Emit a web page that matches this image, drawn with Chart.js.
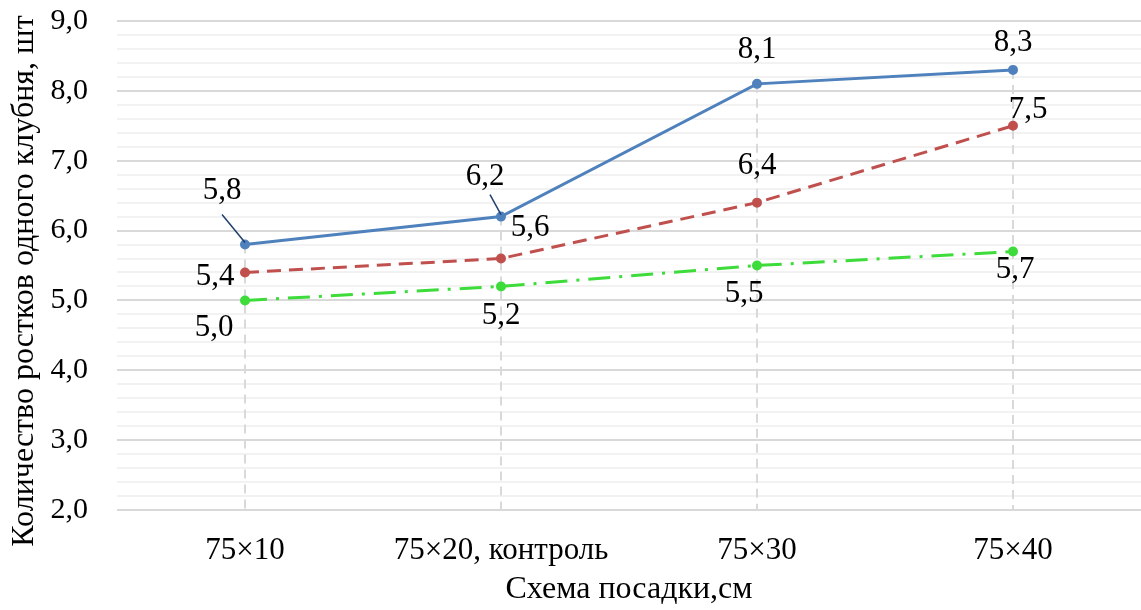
<!DOCTYPE html>
<html>
<head>
<meta charset="utf-8">
<script src="https://cdn.jsdelivr.net/npm/chart.js@4/dist/chart.umd.min.js"></script>
<style>
  html, body { margin: 0; padding: 0; background: #fff; overflow: hidden; }
  #wrap { width: 1141px; height: 610px; }
</style>
</head>
<body>
<div id="wrap"><canvas id="sprouts"></canvas></div>
<script>
// Данные
const categories = ['75×10', '75×20, контроль', '75×30', '75×40'];
const series1 = [5.8, 6.2, 8.1, 8.3];
const series2 = [5.4, 5.6, 6.4, 7.5];
const series3 = [5.0, 5.2, 5.5, 5.7];
const yTitle = 'Количество ростков одного клубня, шт';

// смещения подписей относительно точки (px)
const labelShift = [
  [[-23, -54], [-16, -40], [0, -34], [0, -27]],
  [[-30, 4], [29, -31], [0, -37], [15, -16]],
  [[-31, 27], [0, 29], [-13, 28], [2, 18]]
];

const font = 'Liberation Serif, Times New Roman, serif';

// вертикальные линии от верхней точки к оси
const dropLines = {
  id: 'dropLines',
  beforeDatasetsDraw(chart) {
    const { ctx, chartArea, scales } = chart;
    ctx.save();
    ctx.strokeStyle = '#d9d9d9';
    ctx.lineWidth = 2;
    ctx.setLineDash([9, 6]);
    categories.forEach((c, i) => {
      const top = Math.max(series1[i], series2[i], series3[i]);
      const x = scales.x.getPixelForValue(i);
      ctx.beginPath();
      ctx.moveTo(x, scales.y.getPixelForValue(top));
      ctx.lineTo(x, chartArea.bottom);
      ctx.stroke();
    });
    ctx.restore();
  }
};

// подписи значений + заголовок оси Y
const valueLabels = {
  id: 'valueLabels',
  afterDatasetsDraw(chart) {
    const ctx = chart.ctx;
    ctx.save();
    ctx.font = '31px ' + font;
    ctx.fillStyle = '#000';
    ctx.textAlign = 'center';
    ctx.textBaseline = 'middle';
    chart.data.datasets.forEach((ds, d) => {
      const meta = chart.getDatasetMeta(d);
      meta.data.forEach((pt, i) => {
        const [dx, dy] = labelShift[d][i];
        const tx = pt.x + dx, ty = pt.y + dy;
        ctx.fillText(ds.data[i].toFixed(1).replace('.', ','), tx, ty);
        if (d === 0 && i < 2) {
          ctx.strokeStyle = '#1f3f6f';
          ctx.lineWidth = 1.5;
          ctx.beginPath();
          ctx.moveTo(tx + (i === 0 ? 0 : 5), ty + (i === 0 ? 24 : 18));
          ctx.lineTo(pt.x, pt.y - 2);
          ctx.stroke();
        }
      });
    });
    // заголовок оси Y (чуть ниже центра, как в оригинале)
    ctx.font = '32px ' + font;
    ctx.translate(25, 281);
    ctx.rotate(-Math.PI / 2);
    ctx.fillText(yTitle, 0, 0);
    ctx.restore();
  }
};

const config = {
  type: 'line',
  data: {
    labels: categories,
    datasets: [
      {
        data: series1,
        borderColor: '#4f81bd',
        backgroundColor: '#4f81bd',
        borderWidth: 3,
        pointRadius: 3.5,
        pointHoverRadius: 3.5
      },
      {
        data: series2,
        borderColor: '#c0504d',
        backgroundColor: '#c0504d',
        borderWidth: 3,
        borderDash: [14, 8],
        pointRadius: 3.5,
        pointHoverRadius: 3.5
      },
      {
        data: series3,
        borderColor: '#3ddc3a',
        backgroundColor: '#3ddc3a',
        borderWidth: 3,
        borderDash: [22, 9, 3, 9],
        pointRadius: 3.5,
        pointHoverRadius: 3.5
      }
    ]
  },
  options: {
    responsive: true,
    maintainAspectRatio: false,
    animation: false,
    layout: { autoPadding: false, padding: { top: 21, right: 0, bottom: 0, left: 0 } },
    plugins: {
      legend: { display: false },
      tooltip: { enabled: false }
    },
    scales: {
      x: {
        offset: true,
        grid: { display: false },
        border: { display: false },
        ticks: { color: '#000', font: { family: font, size: 31 }, padding: 14, maxRotation: 0 },
        title: { display: true, text: 'Схема посадки,см', color: '#000', font: { family: font, size: 32 }, padding: { top: 0, bottom: 1 } },
        afterFit: s => { s.height = 100; s.paddingLeft = 0; s.paddingRight = 0; }
      },
      y: {
        min: 2,
        max: 9,
        border: { display: false },
        grid: {
          drawTicks: false,
          lineWidth: 2,
          color: c => Math.abs(c.tick.value - Math.round(c.tick.value)) < 1e-6 ? '#d9d9d9' : '#f2f2f2'
        },
        ticks: {
          stepSize: 0.2,
          autoSkip: false,
          maxTicksLimit: 100,
          padding: 29,
          color: '#000',
          font: { family: font, size: 30 },
          callback: v => Math.abs(v - Math.round(v)) < 1e-6 ? Math.round(v).toFixed(1).replace('.', ',') : ''
        },
        afterFit: s => { s.width = 117; s.paddingTop = 0; s.paddingBottom = 0; }
      }
    }
  },
  plugins: [dropLines, valueLabels]
};

new Chart(document.getElementById('sprouts').getContext('2d'), config);
</script>
</body>
</html>
